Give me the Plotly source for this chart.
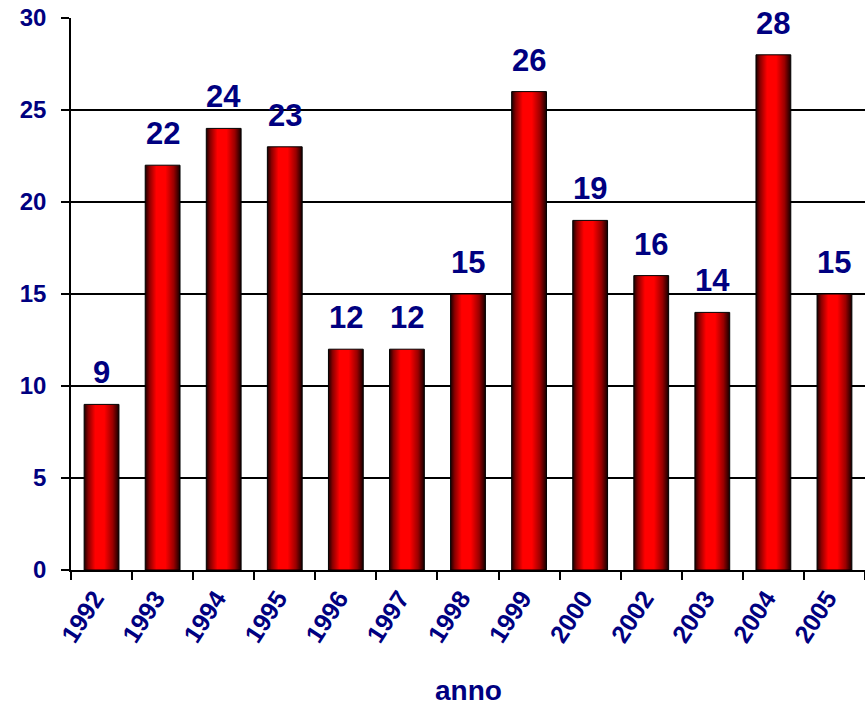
import plotly.graph_objects as go

years = ["1992", "1993", "1994", "1995", "1996", "1997", "1998",
         "1999", "2000", "2002", "2003", "2004", "2005"]
counts = [9, 22, 24, 23, 12, 12, 15, 26, 19, 16, 14, 28, 15]

NAVY = "#000080"
FONT = "Liberation Sans, Arial, sans-serif"
HALF = 0.285  # half bar width in category units
BAR_SCALE = [
    [0.0, "#1a0000"],
    [0.12, "#8a0000"],
    [0.32, "#ff0000"],
    [0.58, "#ff0000"],
    [0.82, "#9a0000"],
    [1.0, "#150000"],
]

fig = go.Figure()

for i, v in enumerate(counts):
    fig.add_trace(go.Scatter(
        x=[i - HALF, i + HALF, i + HALF, i - HALF, i - HALF],
        y=[0, 0, v, v, 0],
        mode="lines",
        fill="toself",
        fillgradient=dict(type="horizontal", colorscale=BAR_SCALE),
        line=dict(color="#000000", width=1),
        hoverinfo="skip",
        showlegend=False,
    ))
    fig.add_annotation(
        x=i, y=v, text=f"<b>{v}</b>", showarrow=False,
        yanchor="bottom", yshift=12,
        font=dict(family=FONT, size=31, color=NAVY),
    )

fig.add_annotation(
    x=0.5, y=0, xref="paper", yref="paper", text="<b>anno</b>",
    showarrow=False, yanchor="middle", yshift=-120,
    font=dict(family=FONT, size=28, color=NAVY),
)

fig.update_layout(
    width=865,
    height=708,
    margin=dict(l=71, r=0, t=18, b=138, autoexpand=False),
    plot_bgcolor="white",
    paper_bgcolor="white",
    font=dict(family=FONT, color=NAVY),
)

fig.update_xaxes(
    automargin=False,
    range=[-0.5, len(years) - 0.5],
    tickmode="array",
    tickvals=list(range(len(years))),
    ticktext=[f"<b>{y}</b>" for y in years],
    tickangle=-57,
    ticks="",
    ticklabelstandoff=2,
    ticklabelshift=-7,
    tickfont=dict(family=FONT, size=25, color=NAVY),
    showgrid=False,
    showline=True,
    linecolor="black",
    linewidth=1.5,
    zeroline=False,
    minor=dict(
        tickmode="array",
        tickvals=[k - 0.5 for k in range(len(years) + 1)],
        ticks="outside",
        ticklen=8,
        tickcolor="black",
        tickwidth=1.5,
        showgrid=False,
    ),
)

fig.update_yaxes(
    automargin=False,
    range=[0, 30],
    tickmode="array",
    tickvals=[0, 5, 10, 15, 20, 25, 30],
    ticktext=[f"<b>{t}</b>" for t in [0, 5, 10, 15, 20, 25, 30]],
    ticks="outside",
    ticklen=8,
    tickcolor="black",
    tickwidth=1.5,
    ticklabelstandoff=10,
    tickfont=dict(family=FONT, size=24, color=NAVY),
    showgrid=True,
    gridcolor="black",
    gridwidth=1.5,
    showline=True,
    linecolor="black",
    linewidth=1.5,
    zeroline=False,
)

# the page body has a default 8px margin; drop it so the chart sits at 0,0
fig.write_html(
    "out.html",
    config={"displayModeBar": False},
    post_script="document.body.style.margin='0';",
)
